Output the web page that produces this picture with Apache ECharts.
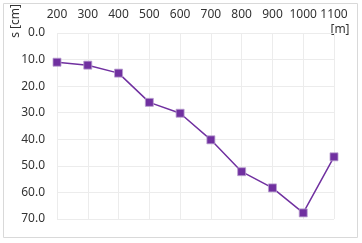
<!DOCTYPE html>
<html><head><meta charset="utf-8">
<script src="https://cdn.jsdelivr.net/npm/echarts@6/dist/echarts.min.js"></script>
<style>html,body{margin:0;padding:0;background:#fff}#c{width:362px;height:243px}</style>
</head><body><div id="c"></div>
<script>
const distances = [200, 300, 400, 500, 600, 700, 800, 900, 1000, 1100];
const settlement = [11.0, 12.1, 15.1, 26.1, 30.2, 40.2, 52.2, 58.3, 67.7, 46.6];
const yTicks = [0, 10, 20, 30, 40, 50, 60, 70];
const chart = echarts.init(document.getElementById('c'));
const font = '"Noto Sans", sans-serif';
chart.setOption({
  animation: false,
  grid: { left: 57, right: 28, top: 33, bottom: 24 },
  xAxis: {
    type: 'value', position: 'top', min: 200, max: 1100, interval: 100,
    axisLine: { show: false }, axisTick: { show: false },
    axisLabel: { color: '#333', fontSize: 12, fontFamily: font, margin: 12, formatter: v => String(v) },
    splitLine: { show: true, lineStyle: { color: '#ececec', width: 1 } }
  },
  yAxis: {
    type: 'value', inverse: true, min: yTicks[0], max: yTicks[yTicks.length-1], interval: 10,
    axisLine: { show: false }, axisTick: { show: false },
    axisLabel: { color: '#333', fontSize: 12, fontFamily: font, margin: 12, formatter: v => v.toFixed(1) },
    splitLine: { show: true, lineStyle: { color: '#ececec', width: 1 } }
  },
  graphic: [
    { type: 'rect', shape: { x: 3.5, y: 3.5, width: 354, height: 234 }, style: { fill: 'none', stroke: '#d9d9d9', lineWidth: 1 }, z: -1 },
    { type: 'text', x: 16, y: 21, rotation: Math.PI/2, style: { text: 's [cm]', fill: '#333', font: '12px ' + font, textAlign: 'center', textVerticalAlign: 'middle' } },
    { type: 'text', x: 340, y: 30, style: { text: '[m]', fill: '#333', font: '12px ' + font, textAlign: 'center', textVerticalAlign: 'middle' } }
  ],
  series: [{
    type: 'line', data: distances.map((d, i) => [d, settlement[i]]),
    symbol: 'rect', symbolSize: 8, showAllSymbol: true,
    lineStyle: { color: '#7030a0', width: 1.5 },
    itemStyle: { color: '#7030a0', borderColor: '#b9a0cf', borderWidth: 0.8 },
    clip: false
  }]
});
</script></body></html>
